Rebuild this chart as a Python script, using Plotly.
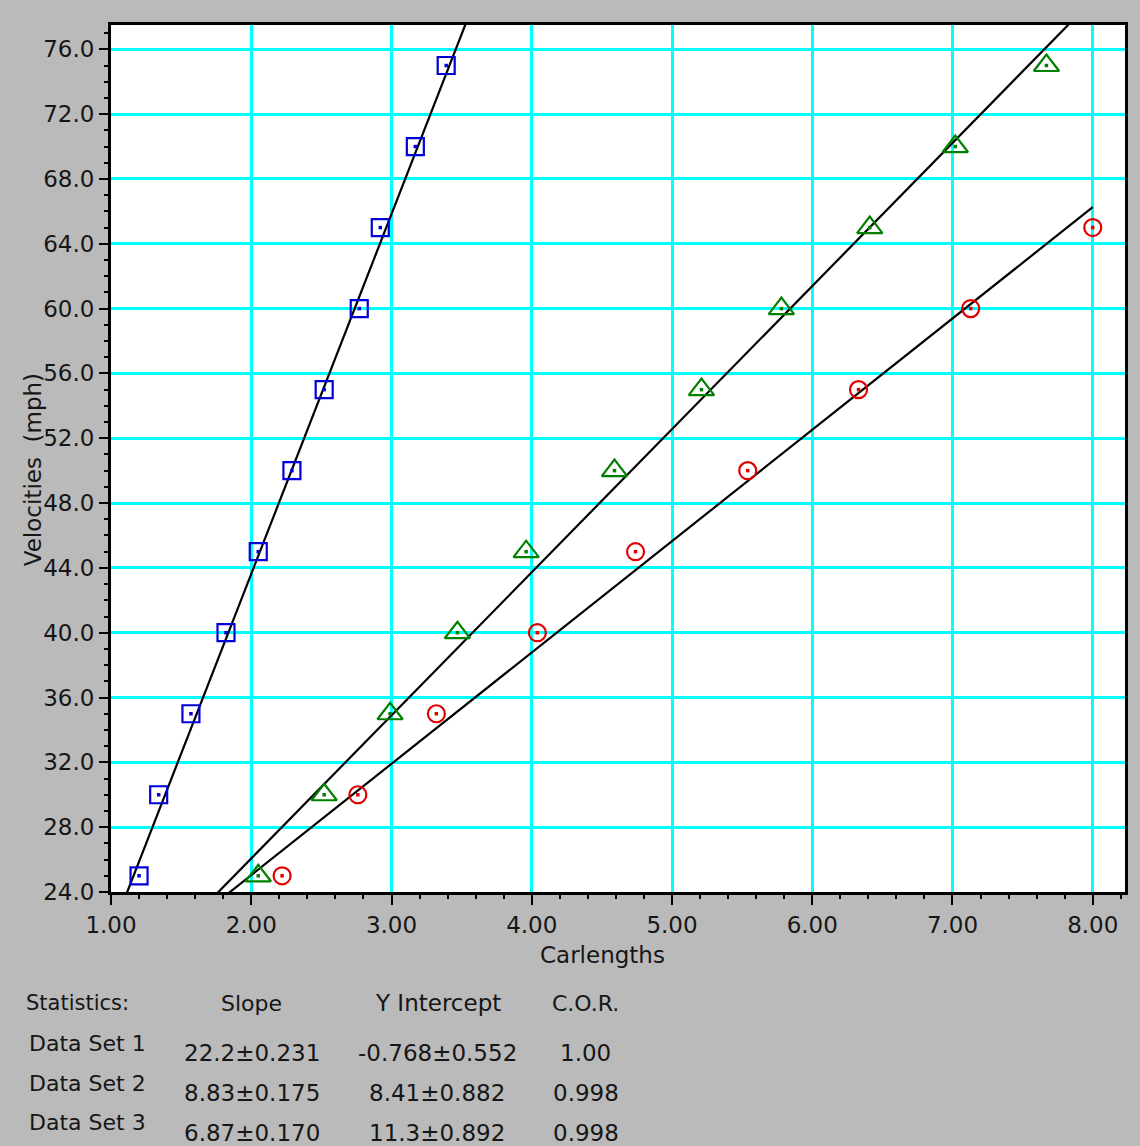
import plotly.graph_objects as go

# ---------------- data ----------------
velocities_1 = [25, 30, 35, 40, 45, 50, 55, 60, 65, 70, 75]
carlengths_1 = [1.20, 1.34, 1.57, 1.82, 2.05, 2.29, 2.52, 2.77, 2.92, 3.17, 3.39]

velocities_2 = [25, 30, 35, 40, 45, 50, 55, 60, 65, 70, 75]
carlengths_2 = [2.05, 2.52, 2.99, 3.47, 3.96, 4.59, 5.21, 5.78, 6.41, 7.02, 7.67]

velocities_3 = [25, 30, 35, 40, 45, 50, 55, 60, 65]
carlengths_3 = [2.22, 2.76, 3.32, 4.04, 4.74, 5.54, 6.33, 7.13, 8.00]

set_names = ["Data Set 1", "Data Set 2", "Data Set 3"]
slopes = [22.2, 8.83, 6.87]
slope_err = ["0.231", "0.175", "0.170"]
slope_txt = ["22.2", "8.83", "6.87"]
intercepts = [-0.768, 8.41, 11.3]
intercept_txt = ["-0.768", "8.41", "11.3"]
intercept_err = ["0.552", "0.882", "0.892"]
cor_txt = ["1.00", "0.998", "0.998"]
fit_x_range = [1.0, 8.0]

x_ticks = [1, 2, 3, 4, 5, 6, 7, 8]
y_ticks = list(range(24, 77, 4))

colors = ["#0000d8", "#008000", "#e00000"]
symbols = ["square-open", "triangle-up-open", "circle-open"]
sizes = [17, 22, 17]

# ---------------- figure ----------------
W, H = 1140, 1146
ML, MR, MT, MB = 111, 12, 25, 254
FONT = "DejaVu Sans"
TXT = "#161616"

fig = go.Figure()

# fitted lines
for m, b in zip(slopes, intercepts):
    fig.add_trace(go.Scatter(
        x=fit_x_range, y=[m * fit_x_range[0] + b, m * fit_x_range[1] + b],
        mode="lines", line=dict(color="black", width=2.2),
        showlegend=False, hoverinfo="skip"))

series = [(carlengths_1, velocities_1), (carlengths_2, velocities_2), (carlengths_3, velocities_3)]
for (xs, ys), c, s, sz in zip(series, colors, symbols, sizes):
    fig.add_trace(go.Scatter(
        x=xs, y=ys, mode="markers",
        marker=dict(symbol=s, size=sz, color=c, line=dict(color=c, width=2.2)),
        showlegend=False, cliponaxis=False))
    # centre dot
    fig.add_trace(go.Scatter(
        x=xs, y=ys, mode="markers",
        marker=dict(symbol="square", size=3.5, color=c, line=dict(width=0)),
        showlegend=False, hoverinfo="skip", cliponaxis=False))

axis_common = dict(
    showgrid=True, gridcolor="#00ffff", gridwidth=2.5,
    zeroline=False, showline=True, linecolor="black", linewidth=3, mirror=True,
    ticks="outside", tickcolor="black", tickwidth=2,
    tickfont=dict(family=FONT, size=23, color=TXT),
)

fig.update_xaxes(
    range=[1.0, 8.23], tickvals=x_ticks, tickformat=".2f", ticklen=10,
    minor=dict(dtick=0.2, ticklen=4, tickwidth=2, tickcolor="black", showgrid=False),
    **axis_common)
fig.update_yaxes(
    range=[24.0, 77.5], tickvals=y_ticks, tickformat=".1f", ticklen=9,
    minor=dict(dtick=1, ticklen=4, tickwidth=2, tickcolor="black", showgrid=False),
    **axis_common)

PW = W - ML - MR
PH = H - MT - MB


def px(x):
    return (x - ML) / PW


def py(y):
    return (H - MB - y) / PH


ann = []


def add_text(x, y, text, xanchor="center", size=22):
    ann.append(dict(x=px(x), y=py(y), xref="paper", yref="paper", text=text,
                    showarrow=False, xanchor=xanchor, yanchor="middle",
                    font=dict(family=FONT, size=size, color=TXT)))


# axis titles
add_text(604, 955, "Carlengths", size=23)
ann.append(dict(x=px(33), y=py(470), xref="paper", yref="paper",
                text="Velocities  (mph)", showarrow=False, textangle=-90,
                xanchor="center", yanchor="middle",
                font=dict(family=FONT, size=23, color=TXT)))

# statistics table
add_text(24, 1003, "Statistics:", xanchor="left", size=21)
add_text(252, 1003, "Slope")
add_text(439, 1003, "Y Intercept", size=23)
add_text(587, 1003, "C.O.R.")
for i in range(3):
    add_text(27, 1043 + 40 * i, set_names[i], xanchor="left", size=22)
    yv = 1053 + 40 * i
    add_text(252, yv, f"{slope_txt[i]}±{slope_err[i]}", size=23)
    add_text(438, yv, f"{intercept_txt[i]}±{intercept_err[i]}", size=23)
    add_text(587, yv, cor_txt[i], size=23)

fig.update_layout(
    width=W, height=H,
    margin=dict(l=ML, r=MR, t=MT, b=MB),
    paper_bgcolor="#bababa", plot_bgcolor="white",
    annotations=ann, showlegend=False,
)

fig.write_html("out.html")
